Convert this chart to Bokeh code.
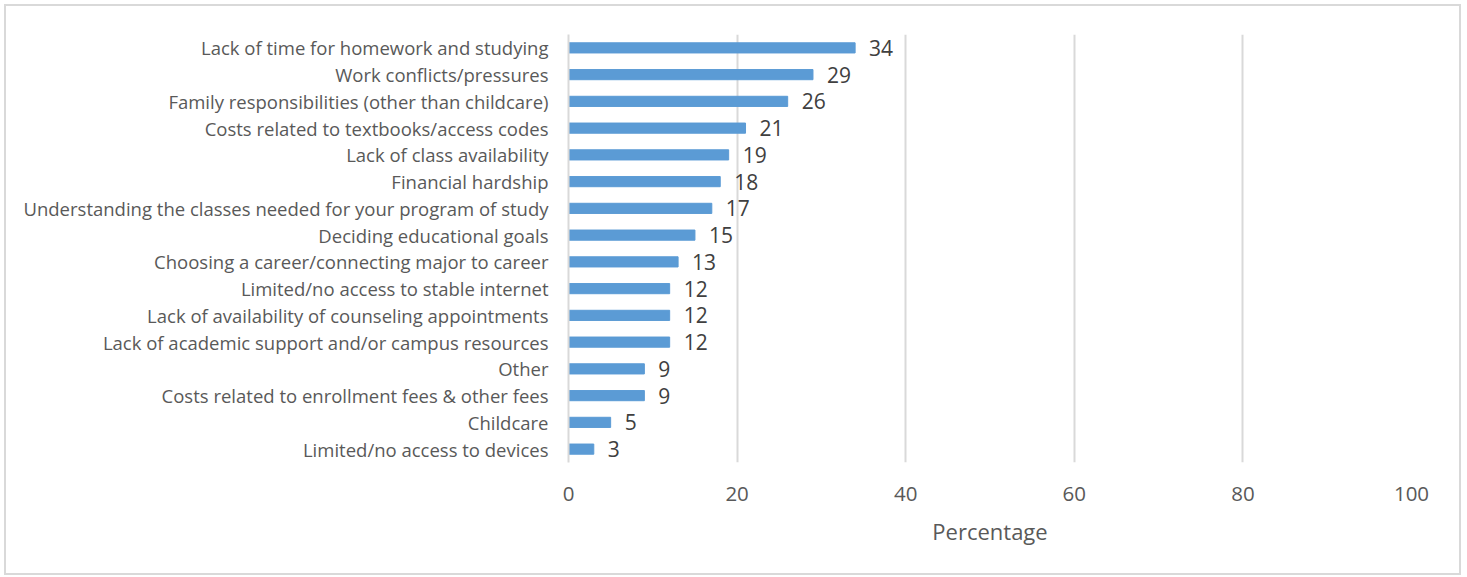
from bokeh.plotting import figure
from bokeh.models import FactorRange, Range1d, ColumnDataSource, FixedTicker, LabelSet
from bokeh.core.properties import value
from bokeh.embed import file_html
from bokeh.resources import INLINE

categories = [
    "Lack of time for homework and studying",
    "Work conflicts/pressures",
    "Family responsibilities (other than childcare)",
    "Costs related to textbooks/access codes",
    "Lack of class availability",
    "Financial hardship",
    "Understanding the classes needed for your program of study",
    "Deciding educational goals",
    "Choosing a career/connecting major to career",
    "Limited/no access to stable internet",
    "Lack of availability of counseling appointments",
    "Lack of academic support and/or campus resources",
    "Other",
    "Costs related to enrollment fees & other fees",
    "Childcare",
    "Limited/no access to devices",
]
values = [34, 29, 26, 21, 19, 18, 17, 15, 13, 12, 12, 12, 9, 9, 5, 3]
x_ticks = [0, 20, 40, 60, 80, 100]

FONT = "Open Sans"

src = ColumnDataSource(dict(cat=categories, val=values, lab=[str(v) for v in values]))

p = figure(
    y_range=FactorRange(factors=list(reversed(categories))),
    x_range=Range1d(0, 100),
    frame_width=843, frame_height=428,
    min_border_left=562, min_border_right=48, min_border_top=28, min_border_bottom=111,
    output_backend="svg", toolbar_location=None,
)
p.styles = {"border": "2px solid #d9d9d9", "margin-left": "4px", "margin-top": "4px"}

p.hbar(y="cat", right="val", left=0, height=0.38, color="#5B9BD5", source=src)

labels = LabelSet(x="val", y="cat", text="lab", source=src, x_offset=14,
                  text_baseline="middle", text_align="left",
                  text_font=value(FONT), text_font_size=value("21px"),
                  text_color="#404040")
p.add_layout(labels)

p.outline_line_color = None
p.background_fill_color = "white"
p.border_fill_color = "white"

p.xgrid.ticker = FixedTicker(ticks=x_ticks)
p.xgrid.grid_line_color = "#D9D9D9"
p.xgrid.grid_line_width = 2
p.ygrid.grid_line_color = None

xa = p.xaxis[0]
xa.ticker = FixedTicker(ticks=x_ticks)
xa.axis_line_color = None
xa.major_tick_line_color = None
xa.minor_tick_line_color = None
xa.major_label_standoff = 18
xa.major_label_text_font = FONT
xa.major_label_text_font_size = "20.5px"
xa.major_label_text_color = "#595959"
xa.axis_label = "Percentage"
xa.axis_label_text_font = FONT
xa.axis_label_text_font_size = "22px"
xa.axis_label_text_font_style = "normal"
xa.axis_label_text_color = "#595959"
xa.axis_label_standoff = 12

ya = p.yaxis[0]
ya.axis_line_color = "#D9D9D9"
ya.axis_line_width = 2
ya.major_tick_line_color = None
ya.minor_tick_line_color = None
ya.major_label_standoff = 14
ya.major_label_text_font = FONT
ya.major_label_text_font_size = "18.5px"
ya.major_label_text_color = "#595959"

open("out.html", "w").write(file_html(p, INLINE))
